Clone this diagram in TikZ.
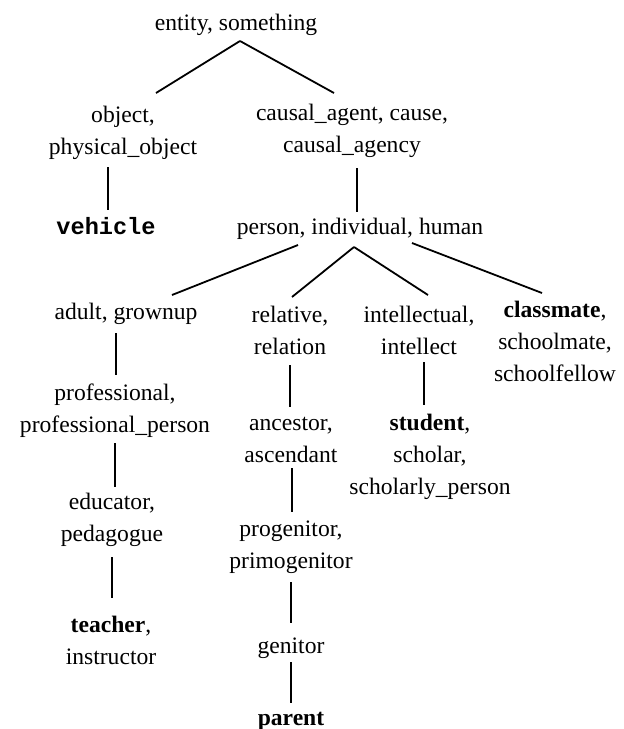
\documentclass[tikz,border=0pt]{standalone}
\usepackage{fontspec}
\setmainfont{Liberation Serif}
\setmonofont{Liberation Mono}
\begin{document}
\begin{tikzpicture}[x=0.5pt,y=-0.5pt,
  term/.style={anchor=base,align=center,inner sep=0pt,font=\fontsize{11.8}{16}\selectfont},
  edge/.style={line width=0.9pt,black}]
\useasboundingbox (0,0) rectangle (624,729);
% nodes (positions at baseline of last line)
\node[term] (entity) at (236,30) {entity, something};
\node[term] (object) at (123,154) {object,\\physical\_object};
\node[term] (causal) at (352,152) {causal\_agent, cause,\\causal\_agency};
\node[term] (vehicle) at (106,234) {\ttfamily\bfseries vehicle};
\node[term] (person) at (360,234) {person, individual, human};
\node[term] (adult) at (126,319) {adult, grownup};
\node[term] (relative) at (290,354) {relative,\\relation};
\node[term] (intellectual) at (419,354) {intellectual,\\intellect};
\node[term] (classmate) at (555,381) {\textbf{classmate},\\schoolmate,\\schoolfellow};
\node[term] (professional) at (115,432) {professional,\\professional\_person};
\node[term] (ancestor) at (291,462) {ancestor,\\ascendant};
\node[term] (student) at (430,494) {\textbf{student},\\scholar,\\scholarly\_person};
\node[term] (educator) at (112,541) {educator,\\pedagogue};
\node[term] (progenitor) at (291,568) {progenitor,\\primogenitor};
\node[term] (teacher) at (111,664) {\textbf{teacher},\\instructor};
\node[term] (genitor) at (291,653) {genitor};
\node[term] (parent) at (291,725) {\textbf{parent}};
% connectors
\draw[edge] ([shift={(4,11)}]entity.base) -- ([shift={(33,-61)}]object.base);
\draw[edge] ([shift={(4,11)}]entity.base) -- ([shift={(-18,-59)}]causal.base);
\draw[edge] ([shift={(-15,13)}]object.base) -- ([shift={(2,-24)}]vehicle.base);
\draw[edge] ([shift={(5,16)}]causal.base) -- ([shift={(-3,-22)}]person.base);
\draw[edge] ([shift={(-62,11)}]person.base) -- ([shift={(46,-24)}]adult.base);
\draw[edge] ([shift={(-6,13)}]person.base) -- ([shift={(2,-57)}]relative.base);
\draw[edge] ([shift={(-6,13)}]person.base) -- ([shift={(9,-59)}]intellectual.base);
\draw[edge] ([shift={(52,9)}]person.base) -- ([shift={(-13,-88)}]classmate.base);
\draw[edge] ([shift={(-10,14)}]adult.base) -- ([shift={(1,-57)}]professional.base);
\draw[edge] ([shift={(0,11)}]professional.base) -- ([shift={(3,-54)}]educator.base);
\draw[edge] ([shift={(0,16)}]educator.base) -- ([shift={(1,-66)}]teacher.base);
\draw[edge] ([shift={(0,11)}]relative.base) -- ([shift={(-1,-55)}]ancestor.base);
\draw[edge] ([shift={(1,6)}]ancestor.base) -- ([shift={(1,-56)}]progenitor.base);
\draw[edge] ([shift={(0,14)}]progenitor.base) -- ([shift={(0,-30)}]genitor.base);
\draw[edge] ([shift={(0,9)}]genitor.base) -- ([shift={(0,-22)}]parent.base);
\draw[edge] ([shift={(5,8)}]intellectual.base) -- ([shift={(-6,-89)}]student.base);
\end{tikzpicture}
\end{document}
